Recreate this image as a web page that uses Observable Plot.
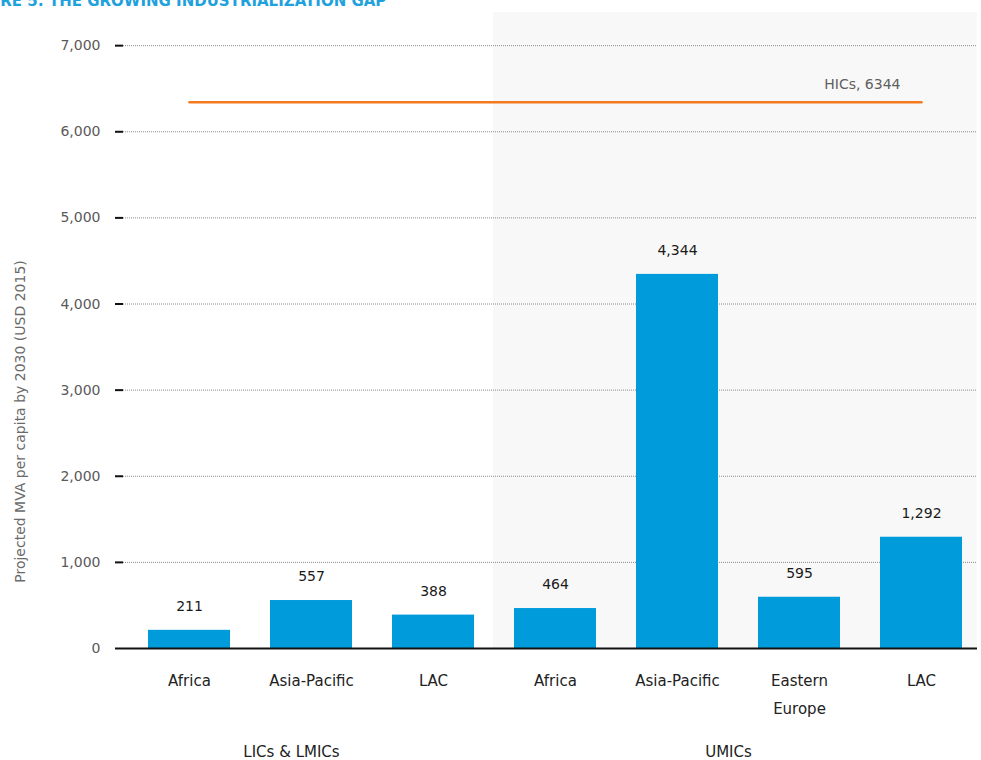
<!DOCTYPE html>
<html>
<head>
<meta charset="utf-8">
<script src="https://cdn.jsdelivr.net/npm/d3@7"></script>
<script src="https://cdn.jsdelivr.net/npm/@observablehq/plot@0.6"></script>
<style>
  html, body { margin: 0; padding: 0; background: #fff; overflow: hidden; }
  #wrap { position: relative; width: 981px; height: 760px; }
  #title {
    position: absolute; left: -40px; top: -7px; white-space: nowrap;
    font-family: "DejaVu Sans", sans-serif;
    font-weight: bold; font-size: 15px;
    color: #1ea1dd; line-height: 16px; z-index: 2;
  }
  #chart { position: absolute; left: 0; top: 0; }
</style>
</head>
<body>
<div id="wrap">
  <div id="title">FIGURE 5: THE GROWING INDUSTRIALIZATION GAP</div>
  <div id="chart"></div>
</div>
<script>
// ---- data ----
const groups  = ["LICs & LMICs", "LICs & LMICs", "LICs & LMICs", "UMICs", "UMICs", "UMICs", "UMICs"];
const regions = ["Africa", "Asia-Pacific", "LAC", "Africa", "Asia-Pacific", "Eastern\nEurope", "LAC"];
const values  = [211, 557, 388, 464, 4344, 595, 1292];
const yTicks  = [0, 1000, 2000, 3000, 4000, 5000, 6000, 7000];
const yMax    = 7385;
const hicsValue = 6344;
const hicsLabel = "HICs, 6344";
const yLabel = "Projected MVA per capita by 2030 (USD 2015)";
const groupNames = ["LICs & LMICs", "UMICs"];

// ---- build table ----
const data = regions.map((r, i) => ({id: groups[i] + "|" + r, group: groups[i], region: r, value: values[i]}));
const ids = data.map(d => d.id);
const shaded = data.filter(d => d.group === "UMICs");
const hics = [{id: ids[0], value: hicsValue}, {id: ids[ids.length - 1], value: hicsValue}];
const g1 = [{id: data.find(d => d.group === groupNames[0] && d.region === "Asia-Pacific").id, text: groupNames[0]}];
const g2 = [{id: data.find(d => d.group === groupNames[1] && d.region === "Asia-Pacific").id, text: groupNames[1]}];
const fmt = d3.format(",");
const FONT = "DejaVu Sans, sans-serif";

const plot = Plot.plot({
  width: 981,
  height: 760,
  marginTop: 12,
  marginBottom: 112,
  marginLeft: 123,
  marginRight: 4,
  style: {fontFamily: FONT, fontSize: "14px", background: "transparent", overflow: "visible"},
  x: {type: "band", domain: ids, range: [146, 964], paddingInner: 0.33, paddingOuter: 0, axis: null},
  y: {domain: [0, yMax], axis: null},
  marks: [
    // UMICs shaded background
    Plot.barY(shaded, {x: "id", y1: 0, y2: () => yMax, fill: "#f8f8f8", insetLeft: -21, insetRight: -21, clip: true}),
    // dotted gridlines
    Plot.ruleY(yTicks.filter(t => t > 0), {stroke: "#8a8a8a", strokeWidth: 1, strokeDasharray: "1,1"}),
    // y axis ticks and labels
    Plot.axisY(yTicks, {anchor: "left", tickSize: 8, tickPadding: 15, tickFormat: fmt, stroke: "#111", strokeWidth: 2, fill: "#5a5a5a", fontSize: 14, label: null}),
    // bars
    Plot.barY(data, {x: "id", y: "value", fill: "#009bdb"}),
    // value labels
    Plot.text(data, {x: "id", y: "value", text: d => fmt(d.value), dy: -24, fill: "#1a1a1a", fontSize: 14}),
    // zero baseline
    Plot.ruleY([0], {stroke: "#111", strokeWidth: 2}),
    // HICs reference line
    Plot.line(hics, {x: "id", y: "value", stroke: "#f47a20", strokeWidth: 2.5}),
    Plot.text([hics[1]], {x: "id", y: "value", text: () => hicsLabel, textAnchor: "end", dx: -21, dy: -18, fill: "#5f5f5f", fontSize: 14}),
    // category labels
    Plot.text(data, {x: "id", text: "region", frameAnchor: "bottom", lineAnchor: "top", dy: 18, lineHeight: 1.87, fill: "#222", fontSize: 15}),
    // group labels
    Plot.text(g1, {x: "id", text: "text", dx: -20, frameAnchor: "bottom", dy: 108, fill: "#222", fontSize: 15}),
    Plot.text(g2, {x: "id", text: "text", dx: 51, frameAnchor: "bottom", dy: 108, fill: "#222", fontSize: 15}),
    // y label
    Plot.text([yLabel], {text: d => d, frameAnchor: "left", textAnchor: "middle", rotate: -90, dx: -103, dy: 91, fill: "#6a6a6a", fontSize: 14})
  ]
});
document.getElementById("chart").appendChild(plot);
</script>
</body>
</html>
